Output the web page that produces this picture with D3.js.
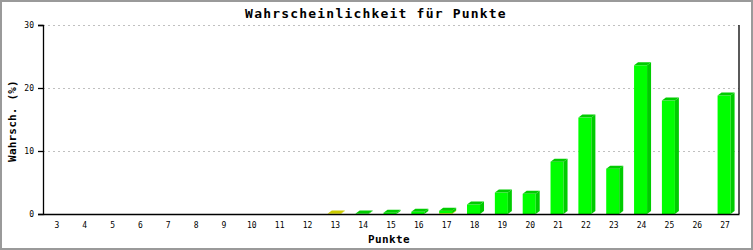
<!DOCTYPE html>
<html>
<head>
<meta charset="utf-8">
<script src="https://cdn.jsdelivr.net/npm/d3@7"></script>
<style>
  body { margin: 0; background: #fff; }
  text { font-family: "DejaVu Sans Mono", monospace; fill: #000; }
</style>
</head>
<body>
<div id="chart-area"></div>
<script>
// data
let punkte = [3, 4, 5, 6, 7, 8, 9, 10, 11, 12, 13, 14, 15, 16, 17, 18, 19, 20, 21, 22, 23, 24, 25, 26, 27];
let gelb  = [0, 0, 0, 0, 0, 0, 0, 0, 0, 0, 0.08, 0, 0, 0, 0.12, 0, 0, 0, 0, 0, 0, 0, 0, 0, 0];
let gruen = [0, 0, 0, 0, 0, 0, 0, 0, 0, 0, 0, 0.08, 0.2, 0.35, 0.4, 1.5, 3.4, 3.2, 8.3, 15.3, 7.2, 23.6, 18.0, 0, 18.8];
let yTicks = [0, 10, 20, 30];

let W = 753, H = 250;
let margin = {top: 25, right: 14, bottom: 36, left: 43};
let width = W - margin.left - margin.right,
    height = H - margin.top - margin.bottom;

let depth = 4, rise = 3;

let svg = d3.select("#chart-area").append("svg")
    .attr("width", W)
    .attr("height", H);

// outer frame
svg.append("rect")
    .attr("x", 1).attr("y", 1)
    .attr("width", W - 2).attr("height", H - 2)
    .attr("fill", "#fff")
    .attr("stroke", "#9a9a9a")
    .attr("stroke-width", 2);

let g = svg.append("g")
    .attr("transform", "translate(" + margin.left + "," + margin.top + ")");

// scales
let x = d3.scaleBand()
    .domain(punkte)
    .range([0, width])
    .paddingInner(0.533)
    .paddingOuter(0.2665);

let y = d3.scaleLinear()
    .domain([0, 30])
    .range([height, 0]);

// grid
g.selectAll(".grid")
    .data(yTicks.slice(1))
    .enter().append("line")
    .attr("class", "grid")
    .attr("x1", 0).attr("x2", width)
    .attr("y1", d => Math.round(y(d)) + 0.5)
    .attr("y2", d => Math.round(y(d)) + 0.5)
    .attr("stroke", "#c0c0c0")
    .attr("stroke-dasharray", "2,3");

// stacked data
let rows = punkte.map((p, i) => ({punkt: p, gelb: gelb[i], gruen: gruen[i]}));
let stack = d3.stack().keys(["gelb", "gruen"])(rows);

let colors = {
  gelb:  {front: "#ffff00", top: "#cccc00", side: "#cccc00"},
  gruen: {front: "#00ff00", top: "#00cc00", side: "#00cc00"}
};

let bars = g.append("g");
punkte.forEach((p, i) => {
  stack.forEach(layer => {
    let d = layer[i];
    if (d[1] - d[0] <= 0) return;
    let c = colors[layer.key];
    let x0 = x(p) - 1, w = x.bandwidth();
    let yb = y(d[0]), yt = y(d[1]);
    // front
    bars.append("rect")
        .attr("x", x0).attr("y", yt)
        .attr("width", w).attr("height", yb - yt)
        .attr("fill", c.front);
    // side
    bars.append("polygon")
        .attr("points", [[x0 + w, yt], [x0 + w + depth, yt - rise], [x0 + w + depth, yb - rise], [x0 + w, yb]].join(" "))
        .attr("fill", c.side);
    // top
    bars.append("polygon")
        .attr("points", [[x0, yt], [x0 + depth, yt - rise], [x0 + w + depth, yt - rise], [x0 + w, yt]].join(" "))
        .attr("fill", c.top);
  });
});

// axes
let yAxis = d3.axisLeft(y).tickValues(yTicks).tickSize(5).tickPadding(4);
let xAxis = d3.axisBottom(x).tickSize(0).tickPadding(8);

let yAxisGroup = g.append("g").attr("class", "y-axis").call(yAxis);
let xAxisGroup = g.append("g").attr("class", "x-axis")
    .attr("transform", "translate(0," + height + ")")
    .call(xAxis);

[yAxisGroup, xAxisGroup].forEach(a => {
  a.selectAll("path, line").attr("stroke", "#000").attr("stroke-width", 1.3);
  a.selectAll("text")
    .style("font-family", "'DejaVu Sans Mono', monospace")
    .style("font-size", "8px")
    .attr("fill", "#000");
});

// right border of plot
g.append("line")
    .attr("x1", width).attr("x2", width)
    .attr("y1", 0).attr("y2", height)
    .attr("stroke", "#000").attr("stroke-width", 1.3);

// titles
svg.append("text")
    .attr("x", 376).attr("y", 18)
    .attr("text-anchor", "middle")
    .style("font-size", "13px")
    .style("font-weight", "bold")
    .style("letter-spacing", "1.2px")
    .text("Wahrscheinlichkeit für Punkte");

svg.append("text")
    .attr("x", 389).attr("y", 243)
    .attr("text-anchor", "middle")
    .style("font-size", "11px")
    .style("font-weight", "bold")
    .style("letter-spacing", "0.4px")
    .text("Punkte");

svg.append("text")
    .attr("transform", "translate(16,121) rotate(-90)")
    .attr("text-anchor", "middle")
    .style("font-size", "11px")
    .style("font-weight", "bold")
    .style("letter-spacing", "0.2px")
    .text("Wahrsch. (%)");
</script>
</body>
</html>
